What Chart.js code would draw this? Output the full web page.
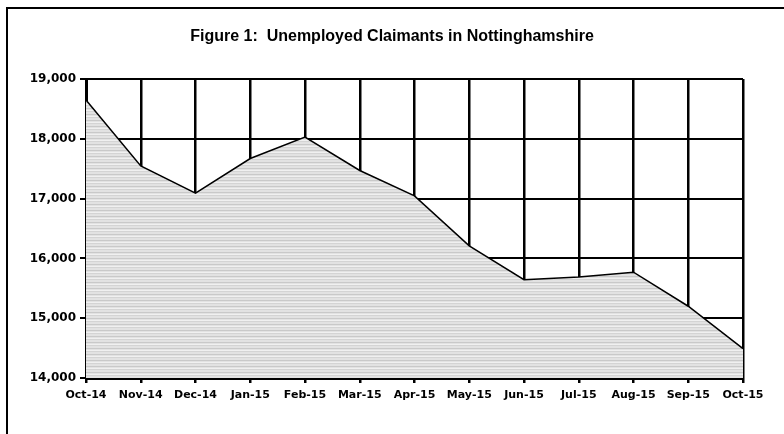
<!DOCTYPE html>
<html>
<head>
<meta charset="utf-8">
<script src="https://cdn.jsdelivr.net/npm/chart.js@4/dist/chart.umd.min.js"></script>
<style>
  html, body { margin: 0; padding: 0; background: #fff; }
  body { width: 784px; height: 434px; position: relative; overflow: hidden; }
  /* outer frame: only top and left edges fall inside the picture */
  #frame { position: absolute; left: 6px; top: 7px; width: 820px; height: 460px; border: 2px solid #000; }
  #wrap { position: absolute; left: 0; top: 0; width: 784px; height: 434px; }
</style>
</head>
<body>
<div id="frame"></div>
<div id="wrap"><canvas id="chart" width="784" height="434"></canvas></div>
<script>
// Data
const months = ['Oct-14', 'Nov-14', 'Dec-14', 'Jan-15', 'Feb-15', 'Mar-15', 'Apr-15',
                'May-15', 'Jun-15', 'Jul-15', 'Aug-15', 'Sep-15', 'Oct-15'];
const claimants = [18650, 17545, 17090, 17670, 18030, 17470, 17045,
                   16210, 15645, 15690, 15770, 15200, 14490];
const yTicks = [14000, 15000, 16000, 17000, 18000, 19000];

const TITLE = 'Figure 1:  Unemployed Claimants in Nottinghamshire';
const TITLE_FONT = '"Liberation Sans", Arial, sans-serif';
const TICK_FONT = '"DejaVu Sans", sans-serif';

// striped grey fill like the original spreadsheet pattern
function stripePattern() {
    const c = document.createElement('canvas');
    c.width = 4; c.height = 6;
    const g = c.getContext('2d');
    g.fillStyle = '#e2e2e2';
    g.fillRect(0, 0, 4, 6);
    g.fillStyle = '#c9c9c9';
    g.fillRect(0, 0, 4, 1);
    g.fillStyle = '#d4d4d4';
    g.fillRect(0, 3, 4, 1);
    g.fillStyle = '#f0f0f0';
    g.fillRect(0, 2, 4, 1);
    return g.createPattern(c, 'repeat');
}

// title centred on the page rather than on the padded layout box
const pageTitle = {
    id: 'pageTitle',
    afterDraw(chart) {
        const c = chart.ctx;
        c.save();
        c.font = `bold 16px ${TITLE_FONT}`;
        c.fillStyle = '#000';
        c.textAlign = 'center';
        c.textBaseline = 'middle';
        c.fillText(TITLE, chart.width / 2, 37);
        c.restore();
    }
};

const ctx = document.getElementById('chart').getContext('2d');

new Chart(ctx, {
    type: 'line',
    data: {
        labels: months,
        datasets: [{
            data: claimants,
            borderColor: '#000',
            borderWidth: 1.5,
            backgroundColor: stripePattern(),
            fill: 'origin',
            pointRadius: 0,
            tension: 0
        }]
    },
    plugins: [pageTitle],
    options: {
        responsive: false,
        animation: false,
        layout: { padding: { left: 0, right: 41, top: 79, bottom: 0 } },
        plugins: {
            legend: { display: false },
            tooltip: { enabled: false },
            title: { display: false }
        },
        scales: {
            x: {
                offset: false,
                grid: { color: '#000', lineWidth: 2.5, tickLength: 5, drawTicks: true },
                border: { color: '#000', width: 3 },
                ticks: {
                    color: '#000',
                    font: { family: TICK_FONT, size: 11, weight: 'bold' },
                    maxRotation: 0,
                    autoSkip: false,
                    padding: 6
                },
                afterFit: s => { s.height = 56; }
            },
            y: {
                min: 14000,
                max: 19000,
                afterBuildTicks: s => { s.ticks = yTicks.map(v => ({ value: v })); },
                grid: { color: '#000', lineWidth: 2, tickLength: 6 },
                border: { color: '#000', width: 3 },
                ticks: {
                    color: '#000',
                    font: { family: TICK_FONT, size: 12, weight: 'bold' },
                    padding: 4,
                    callback: v => v.toLocaleString('en-GB')
                },
                afterFit: s => { s.width = 86; }
            }
        }
    }
});
</script>
</body>
</html>
